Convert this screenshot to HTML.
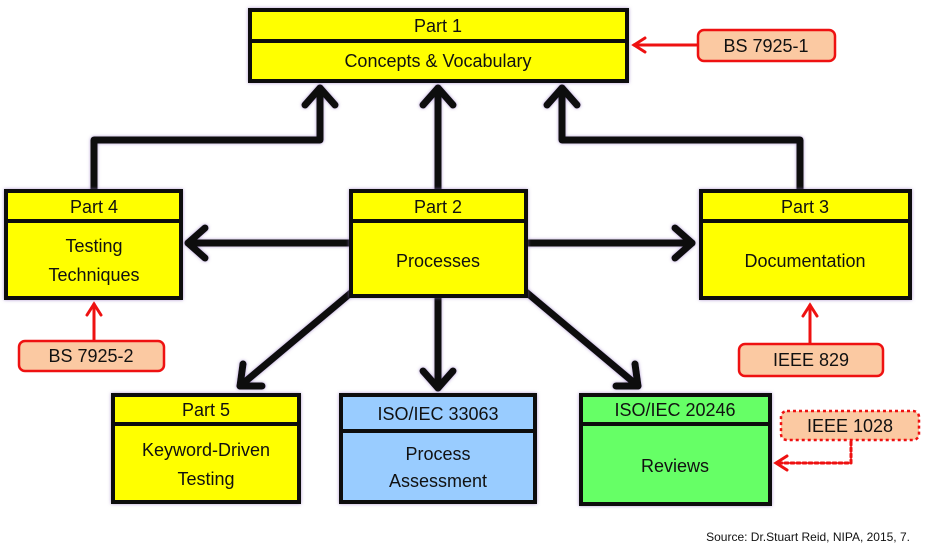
<!DOCTYPE html>
<html><head><meta charset="utf-8"><style>
html,body{margin:0;padding:0;background:#fff;}
svg{display:block;}
text{font-family:"Liberation Sans","DejaVu Sans",sans-serif;fill:#111;}
</style></head><body>
<svg width="930" height="547" viewBox="0 0 930 547" xmlns="http://www.w3.org/2000/svg">
<defs>
<filter id="g" x="-10%" y="-10%" width="120%" height="120%"><feDropShadow dx="0" dy="0" stdDeviation="1.5" flood-color="#9070c0" flood-opacity="0.7"/></filter>
</defs>
<g stroke="#111" stroke-width="7" fill="none" stroke-linecap="round" stroke-linejoin="round" filter="url(#g)">
<polyline points="94,190 94,140 320,140 320,88"/>
<polyline points="305,105 320,88 335,105"/>
<line x1="438" y1="190" x2="438" y2="88"/>
<polyline points="423,105 438,88 453,105"/>
<polyline points="800,190 800,140 562,140 562,88"/>
<polyline points="547,105 562,88 577,105"/>
<line x1="350" y1="243" x2="188" y2="243"/>
<polyline points="205,228 188,243 205,258"/>
<line x1="526" y1="243" x2="692" y2="243"/>
<polyline points="675,228 692,243 675,258"/>
<line x1="438" y1="296" x2="438" y2="388"/>
<polyline points="423,371 438,388 453,371"/>
<line x1="352" y1="292" x2="240" y2="386"/>
<polyline points="243,364 240,386 262,386"/>
<line x1="526" y1="292" x2="638" y2="386"/>
<polyline points="635,364 638,386 616,386"/>
</g>
<g stroke="#111" stroke-width="4" filter="url(#g)">
<rect x="250" y="10" width="377" height="71" fill="#ffff00"/><line x1="250" y1="41" x2="627" y2="41"/>
<rect x="6" y="191" width="175" height="107" fill="#ffff00"/><line x1="6" y1="221" x2="181" y2="221"/>
<rect x="351" y="191" width="175" height="105" fill="#ffff00"/><line x1="351" y1="221" x2="526" y2="221"/>
<rect x="701" y="191" width="209" height="107" fill="#ffff00"/><line x1="701" y1="221" x2="910" y2="221"/>
<rect x="113" y="395" width="186" height="107" fill="#ffff00"/><line x1="113" y1="424" x2="299" y2="424"/>
<rect x="341" y="395" width="194" height="107" fill="#99ccff"/><line x1="341" y1="431" x2="535" y2="431"/>
<rect x="581" y="395" width="189" height="109" fill="#66ff66"/><line x1="581" y1="424" x2="770" y2="424"/>
</g>
<g font-size="18" text-anchor="middle">
<text x="438" y="32">Part 1</text><text x="438" y="67">Concepts &amp; Vocabulary</text>
<text x="94" y="213">Part 4</text><text x="94" y="252">Testing</text><text x="94" y="281">Techniques</text>
<text x="438" y="213">Part 2</text><text x="438" y="267">Processes</text>
<text x="805" y="213">Part 3</text><text x="805" y="267">Documentation</text>
<text x="206" y="416">Part 5</text><text x="206" y="456">Keyword-Driven</text><text x="206" y="485">Testing</text>
<text x="438" y="420">ISO/IEC 33063</text><text x="438" y="460">Process</text><text x="438" y="487">Assessment</text>
<text x="675" y="416">ISO/IEC 20246</text><text x="675" y="472">Reviews</text>
</g>
<g stroke="#ee1111" stroke-width="3" fill="none" stroke-linecap="round">
<line x1="697" y1="45" x2="634" y2="45"/><polyline points="645,38 634,45 645,52"/>
<line x1="94" y1="340" x2="94" y2="304"/><polyline points="87,315 94,304 101,315"/>
<line x1="810" y1="343" x2="810" y2="305"/><polyline points="803,316 810,305 817,316"/>
<polyline points="851,442 851,463 776,463" stroke-dasharray="3,3"/><polyline points="787,456 776,463 787,470"/>
</g>
<g fill="#fbc9a2" stroke="#ee1111" stroke-width="2.5">
<rect x="698" y="30" width="137" height="31" rx="6"/>
<rect x="19" y="341" width="145" height="30" rx="6"/>
<rect x="739" y="344" width="144" height="32" rx="6"/>
<rect x="781" y="411" width="138" height="29" rx="6" stroke-dasharray="3,3"/>
</g>
<g font-size="18" text-anchor="middle">
<text x="766" y="52">BS 7925-1</text>
<text x="91" y="362">BS 7925-2</text>
<text x="811" y="366">IEEE 829</text>
<text x="850" y="432">IEEE 1028</text>
</g>
<text x="910" y="541" font-size="12" text-anchor="end">Source: Dr.Stuart Reid, NIPA, 2015, 7.</text>
</svg>
</body></html>
